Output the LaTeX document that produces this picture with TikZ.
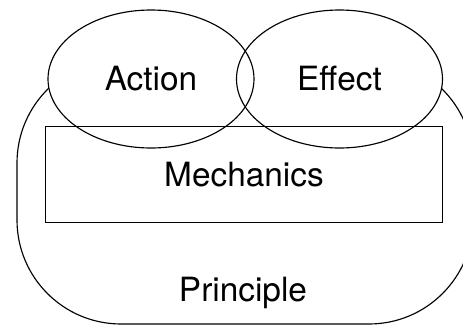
\documentclass[tikz,border=0pt]{standalone}
\usepackage{fontspec}
\setmainfont{TeX Gyre Heros}
\usetikzlibrary{shapes.geometric}
\tikzset{
	outline/.style={draw=black, line width=0.65pt},
	lobe/.style={ellipse, minimum width=4.12cm, minimum height=2.76cm, inner sep=0pt},
	word/.style={font=\fontsize{19}{22}\selectfont}
}

\begin{document}
\begin{tikzpicture}
			%%%%% START %%%%%
			\useasboundingbox (0, 0) rectangle (9.26, -6.52);
			\clip (0, 0) rectangle (9.26, -6.52);
			
			\node[outline, rectangle, rounded corners=2.08cm, minimum width=9.12cm, minimum height=5.30cm] (principle) at (4.90, -3.83) {};
			\node[word] (principletext) at (4.86, -5.85) {Principle};
			
			\node[lobe, fill=white] (actionfill) at (3.02, -1.58) {};
			\node[lobe, fill=white] (effectfill) at (6.79, -1.58) {};
			\node[lobe, outline, word] (action) at (3.02, -1.58) {Action};
			\node[lobe, outline, word] (effect) at (6.79, -1.58) {Effect};
			
			\node[outline, rectangle, minimum width=7.93cm, minimum height=1.92cm, word] (mechanics) at (4.88, -3.49) {Mechanics};
			%%%%% END %%%%%
		\end{tikzpicture}
\end{document}
